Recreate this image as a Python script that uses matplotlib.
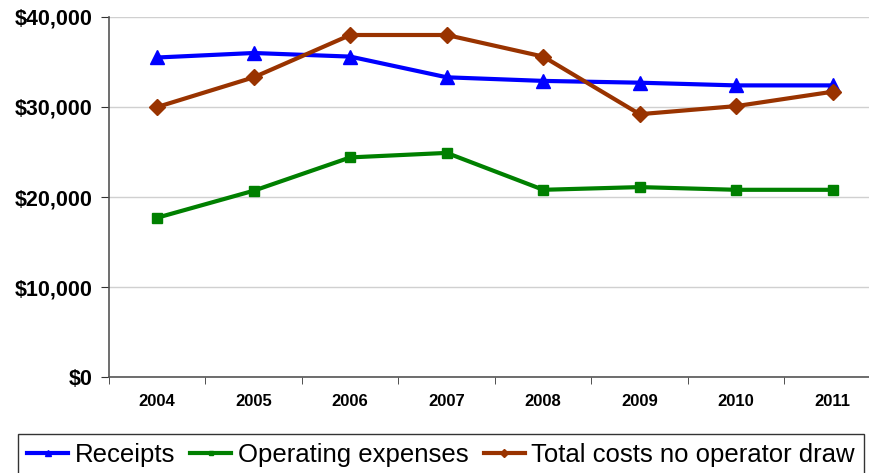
import matplotlib
matplotlib.use("Agg")
import matplotlib.pyplot as plt
from matplotlib.ticker import FuncFormatter
import numpy as np

YEARS = ["2004", "2005", "2006", "2007", "2008", "2009", "2010", "2011"]
RECEIPTS = [35500, 36000, 35600, 33300, 32900, 32700, 32400, 32400]
OPERATING = [17700, 20700, 24400, 24900, 20800, 21100, 20800, 20800]
TOTAL_COSTS = [30000, 33300, 38000, 38000, 35600, 29200, 30100, 31700]
SERIES_LABELS = ["Receipts", "Operating expenses", "Total costs no operator draw"]

plt.rcParams.update({
    "font.family": ["Liberation Sans", "DejaVu Sans"],
})

fig = plt.figure(figsize=(8.7, 4.73), dpi=100)
ax = fig.add_axes([109 / 870, 1 - 377 / 473, (881 - 109) / 870, 360 / 473])

x = np.arange(len(YEARS))
ax.plot(x, RECEIPTS, color="#0000FF", lw=3, marker="^", ms=10, label=SERIES_LABELS[0], zorder=3)
ax.plot(x, OPERATING, color="#008000", lw=3, marker="s", ms=7, label=SERIES_LABELS[1], zorder=3)
ax.plot(x, TOTAL_COSTS, color="#993300", lw=3, marker="D", ms=8, label=SERIES_LABELS[2], zorder=3)

ax.set_xlim(-0.5, len(YEARS) - 0.5)
ax.set_ylim(0, 40000)
ax.set_yticks(range(0, 40001, 10000))
ax.yaxis.set_major_formatter(FuncFormatter(lambda v, _: f"${v:,.0f}"))
ax.set_xticks(x)
ax.set_xticklabels(YEARS)
ax.set_xticks(np.arange(-0.5, len(YEARS), 1), minor=True)
ax.tick_params(axis="x", which="major", length=0, pad=12, labelsize=12)
ax.tick_params(axis="x", which="minor", length=5, direction="out", color="#333333")
ax.tick_params(axis="y", length=6, direction="out", color="#333333", labelsize=15.5, pad=6)
for lab in ax.get_xticklabels() + ax.get_yticklabels():
    lab.set_fontweight("bold")

ax.grid(axis="y", color="#d0d0d0", lw=1.0)
ax.set_axisbelow(True)
for side in ("top", "right"):
    ax.spines[side].set_visible(False)
for side in ("left", "bottom"):
    ax.spines[side].set_color("#555555")
    ax.spines[side].set_linewidth(1.2)

leg = fig.legend(
    loc="upper left",
    bbox_to_anchor=(18 / 870, 1 - 434 / 473),
    ncol=3,
    frameon=True,
    fancybox=False,
    edgecolor="black",
    borderaxespad=0,
    handlelength=1.6,
    handletextpad=0.25,
    columnspacing=0.6,
    borderpad=0.35,
    prop={"size": 18.5},
    markerscale=0.5,
)
leg.get_frame().set_linewidth(1.0)

fig.savefig("out.png", dpi=100)
